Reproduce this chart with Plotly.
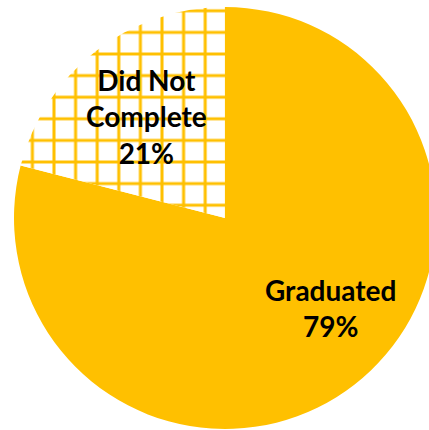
import plotly.graph_objects as go

# Completion outcome shares (percent)
labels = ["Graduated", "Did Not Complete"]
values = [79, 21]
label_lines = ["Graduated", "Did Not<br>Complete"]

GOLD = "#FFC000"

W, H = 440, 430

fig = go.Figure(
    go.Pie(
        labels=labels,
        values=values,
        sort=False,
        direction="clockwise",
        rotation=0,
        textinfo="none",
        hoverinfo="label+percent",
        marker=dict(
            colors=[GOLD, GOLD],
            line=dict(width=0),
            pattern=dict(
                shape=["", "+"],
                fgcolor=[GOLD, GOLD],
                bgcolor=[GOLD, "white"],
                size=21.6,
                solidity=0.26,
                fillmode="replace",
            ),
        ),
        domain=dict(x=[14 / W, 436 / W], y=[1 / H, 423 / H]),
        showlegend=False,
    )
)

# Slice labels, built from the same values as the slices
label_pos = [(330 / W, 1 - 308 / H), (146 / W, 1 - 116 / H)]
total = sum(values)
for name, v, (x, y) in zip(label_lines, values, label_pos):
    fig.add_annotation(
        x=x, y=y, xref="paper", yref="paper",
        xanchor="center", yanchor="middle",
        text=f"{name}<br>{round(100 * v / total)}%",
        showarrow=False,
        align="center",
        font=dict(family="Lato", size=28, color="black", weight="bold"),
    )

fig.update_layout(
    width=W,
    height=H,
    margin=dict(l=0, r=0, t=0, b=0),
    paper_bgcolor="white",
    plot_bgcolor="white",
)

fig.write_html("out.html")
